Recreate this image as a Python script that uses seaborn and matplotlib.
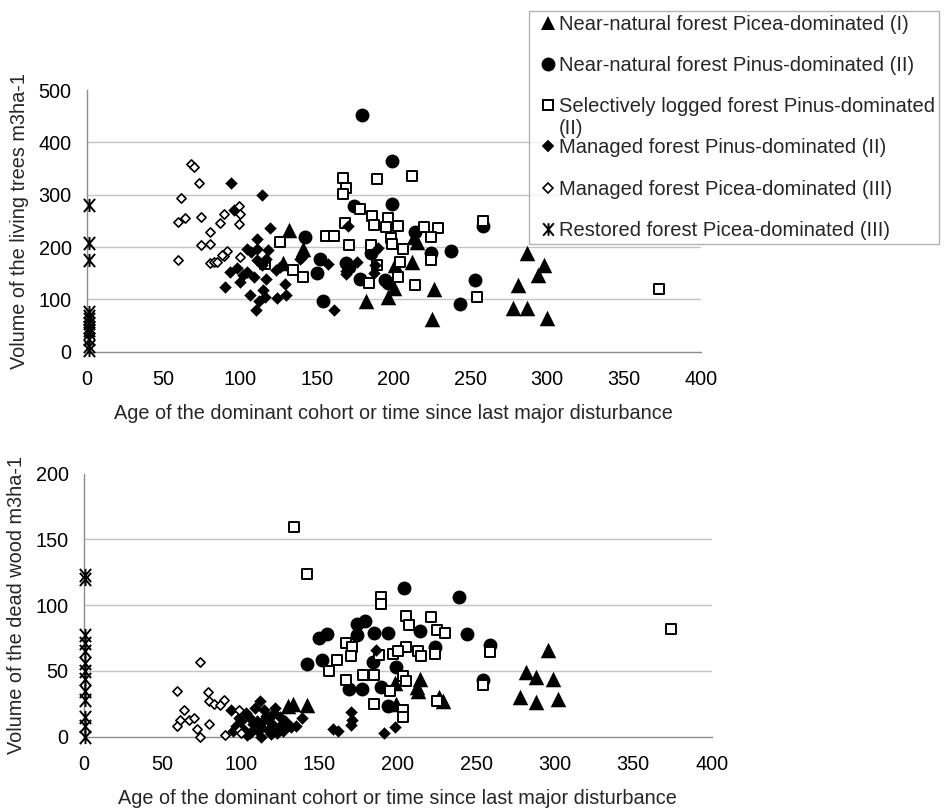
import numpy as np
import pandas as pd
import matplotlib
matplotlib.use("Agg")
import matplotlib.pyplot as plt
from matplotlib.path import Path
from matplotlib.lines import Line2D
import seaborn as sns

# ---------------- data: living trees (top panel) ----------------
live_picea_nn_x = [132, 141, 128, 212, 213, 215, 200, 196, 182, 201, 226, 225, 287, 281, 278, 287, 298, 294, 300]
live_picea_nn_y = [232, 196, 169, 172, 220, 210, 121, 105, 96, 166, 119, 62, 188, 127, 83, 83, 166, 146, 64]

live_pinus_nn_x = [179, 199, 199, 174, 142, 152, 150, 154, 169, 171, 185, 178, 194, 196, 214, 224, 237, 253, 243, 258]
live_pinus_nn_y = [452, 365, 282, 278, 220, 178, 151, 96, 169, 162, 188, 138, 137, 131, 229, 188, 192, 137, 92, 240]

live_logged_x = [126, 116, 134, 141, 167, 169, 167, 189, 212, 178, 186, 187, 196, 195, 203, 168, 156, 161,
                 171, 185, 198, 199, 206, 204, 189, 203, 184, 214, 220, 229, 224, 224, 254, 258, 373]
live_logged_y = [209, 168, 156, 143, 331, 313, 302, 330, 336, 273, 259, 243, 256, 239, 240, 245, 222, 222,
                 204, 204, 217, 206, 196, 172, 166, 143, 131, 127, 238, 236, 220, 175, 104, 250, 119]

live_man_pinus_x = [94, 114, 119, 96, 111, 104, 107, 111, 118, 111, 114, 117, 93, 98, 102, 100, 104, 90, 109,
                    117, 123, 126, 129, 106, 115, 116, 112, 110, 124, 130, 139, 157, 161, 170, 169, 171,
                    176, 169, 190, 188, 187, 140]
live_man_pinus_y = [322, 300, 237, 271, 215, 196, 191, 197, 194, 175, 166, 178, 153, 159, 147, 134, 153, 124, 143,
                    139, 156, 162, 129, 108, 118, 105, 96, 80, 102, 108, 178, 167, 80, 240, 155, 162,
                    172, 148, 199, 166, 150, 180]

live_man_picea_x = [68, 70, 73, 61, 59, 64, 74, 89, 99, 100, 99, 87, 80, 74, 80, 59, 80, 83, 91, 89, 100, 88, 85]
live_man_picea_y = [358, 352, 323, 294, 247, 255, 258, 264, 278, 263, 244, 245, 229, 204, 205, 175, 169, 172,
                    193, 183, 181, 185, 172]

live_restored_x = [1, 1, 1, 1, 1, 1, 1, 1, 1, 1, 1, 1, 1]
live_restored_y = [280, 207, 175, 75, 68, 62, 55, 48, 42, 35, 25, 10, 3]

# ---------------- data: dead wood (bottom panel) ----------------
dead_picea_nn_x = [130, 133, 142, 296, 282, 288, 299, 278, 288, 302, 214, 212, 226, 229, 199, 213, 198]
dead_picea_nn_y = [23, 25, 24, 66, 49, 45, 44, 30, 26, 29, 44, 38, 30, 27, 25, 35, 41]

dead_pinus_nn_x = [204, 239, 179, 174, 155, 150, 174, 185, 194, 214, 244, 224, 259, 142, 152, 184, 169, 177,
                   189, 194, 254, 199]
dead_pinus_nn_y = [113, 106, 88, 86, 78, 75, 77, 79, 79, 80, 78, 68, 70, 55, 58, 57, 36, 36,
                   38, 23, 43, 53]

dead_logged_x = [134, 142, 189, 189, 205, 207, 221, 225, 230, 167, 171, 170, 161, 156, 205, 197, 200, 213,
                 215, 224, 259, 188, 178, 185, 167, 203, 205, 195, 185, 203, 203, 254, 225, 374]
dead_logged_y = [159, 124, 106, 101, 92, 85, 91, 81, 79, 71, 68, 61, 58, 50, 68, 63, 65, 65,
                 61, 63, 64, 62, 47, 47, 43, 46, 42, 35, 25, 20, 15, 39, 27, 82]

dead_man_pinus_x = [112, 94, 139, 159, 162, 170, 171, 170, 186, 191, 198, 97, 100, 102, 105, 106, 108, 110,
                    112, 113, 115, 117, 118, 119, 120, 122, 124, 125, 127, 128, 130, 132, 135, 103, 109,
                    116, 121, 126, 95, 99, 104, 111, 114, 123]
dead_man_pinus_y = [27, 20, 14, 6, 4, 19, 13, 9, 66, 3, 7, 8, 12, 5, 15, 3, 10, 12,
                    8, 0, 20, 5, 14, 2, 10, 22, 6, 15, 4, 12, 9, 7, 8, 18, 22,
                    16, 18, 10, 4, 14, 1, 4, 12, 3]

dead_man_picea_x = [74, 59, 79, 80, 83, 89, 87, 64, 61, 59, 67, 70, 80, 72, 74, 99, 99, 90, 100]
dead_man_picea_y = [57, 35, 34, 27, 25, 28, 24, 20, 13, 8, 13, 14, 10, 6, 0, 20, 5, 1, 3]

dead_restored_x = [1, 1, 1, 1, 1, 1, 1, 1, 1, 1, 1, 1, 1]
dead_restored_y = [123, 120, 77, 71, 65, 56, 50, 44, 35, 28, 15, 8, 0]

series_labels = [
    "Near-natural forest Picea-dominated (I)",
    "Near-natural forest Pinus-dominated (II)",
    "Selectively logged forest Pinus-dominated",
    "Managed forest Pinus-dominated (II)",
    "Managed forest Picea-dominated (III)",
    "Restored forest Picea-dominated (III)",
]
wrapped_label_tail = "(II)"
x_label = "Age of the dominant cohort or time since last major disturbance"
y_label_top = "Volume of the living trees m3ha-1"
y_label_bottom = "Volume of the dead wood m3ha-1"

# ---------------- style ----------------
sns.set_theme(style="white")
plt.rcParams["font.family"] = ["Liberation Sans", "DejaVu Sans"]
FS = 14.3
LFS = 14.5
AXC = "#8c8c8c"
GRIDC = "#c4c4c4"

star = Path([(0, -1), (0, 1), (-0.85, -1), (0.85, 1), (-0.85, 1), (0.85, -1)],
            [Path.MOVETO, Path.LINETO, Path.MOVETO, Path.LINETO, Path.MOVETO, Path.LINETO])

styles = [
    dict(marker="^", s=125, color="black", edgecolor="black", linewidth=0),
    dict(marker="o", s=100, color="black", edgecolor="black", linewidth=0),
    dict(marker="s", s=50, color="white", edgecolor="black", linewidth=1.4),
    dict(marker="D", s=36, color="black", edgecolor="black", linewidth=0.3),
    dict(marker="D", s=22, color="white", edgecolor="black", linewidth=1.2),
    dict(marker=star, s=90, color="black", edgecolor="black", linewidth=1.4),
]
legend_ms = [10.5, 10.0, 7.5, 6.0, 5.5, 9.0]

fig = plt.figure(figsize=(9.46, 8.08), dpi=100)
W, H = 946.0, 808.0
ax_top = fig.add_axes([87 / W, 1 - 351.7 / H, (700.6 - 87) / W, (351.7 - 90) / H])
ax_bot = fig.add_axes([83.9 / W, 1 - 736.7 / H, (711.7 - 83.9) / W, (736.7 - 473.5) / H])

top_sets = [(live_picea_nn_x, live_picea_nn_y), (live_pinus_nn_x, live_pinus_nn_y),
            (live_logged_x, live_logged_y), (live_man_pinus_x, live_man_pinus_y),
            (live_man_picea_x, live_man_picea_y), (live_restored_x, live_restored_y)]
bot_sets = [(dead_picea_nn_x, dead_picea_nn_y), (dead_pinus_nn_x, dead_pinus_nn_y),
            (dead_logged_x, dead_logged_y), (dead_man_pinus_x, dead_man_pinus_y),
            (dead_man_picea_x, dead_man_picea_y), (dead_restored_x, dead_restored_y)]


def draw(ax, sets, ymax, ystep, ylabel):
    for i, ((xs, ys), st) in enumerate(zip(sets, styles)):
        df = pd.DataFrame({"x": xs, "y": ys})
        sns.scatterplot(data=df, x="x", y="y", ax=ax, legend=False, clip_on=False,
                        zorder=3 + i, **st)
    ax.set_xlim(0, 400)
    ax.set_ylim(0, ymax)
    ax.set_xticks(np.arange(0, 401, 50))
    ax.set_yticks(np.arange(0, ymax + 1, ystep))
    ax.yaxis.grid(True, color=GRIDC, linewidth=1.0)
    ax.xaxis.grid(False)
    gl = ax.get_ygridlines()
    gl[0].set_visible(False)
    gl[-1].set_visible(False)
    ax.set_axisbelow(True)
    for sp in ["top", "right"]:
        ax.spines[sp].set_visible(False)
    for sp in ["left", "bottom"]:
        ax.spines[sp].set_color(AXC)
        ax.spines[sp].set_linewidth(1.0)
    ax.tick_params(axis="both", which="major", direction="out", length=5, width=1.0,
                   color=AXC, labelsize=FS, labelcolor="black")
    ax.tick_params(axis="x", pad=8)
    ax.tick_params(axis="y", pad=6)
    ax.set_xlabel(x_label, fontsize=FS, labelpad=11)
    ax.set_ylabel(ylabel, fontsize=FS, labelpad=7)
    ax.set_facecolor("white")


draw(ax_top, top_sets, 500, 100, y_label_top)
draw(ax_bot, bot_sets, 200, 50, y_label_bottom)

# legend
handles = []
for st, ms in zip(styles, legend_ms):
    handles.append(Line2D([], [], linestyle="none", marker=st["marker"], markersize=ms,
                          markerfacecolor=st["color"], markeredgecolor="black",
                          markeredgewidth=st["linewidth"]))
leg = fig.legend(handles, series_labels, loc="upper left",
                 bbox_to_anchor=(529 / W, 1 - 11 / H), bbox_transform=fig.transFigure,
                 borderaxespad=0, frameon=True, fancybox=False, fontsize=LFS,
                 borderpad=0.2, handlelength=1.5, handletextpad=-0.2, labelspacing=1.1)
leg.get_frame().set_edgecolor("#a0a0a0")
leg.get_frame().set_linewidth(1.0)
leg.set_zorder(20)
fig.text(559 / W, 1 - 128 / H, wrapped_label_tail, fontsize=LFS, ha="left", va="center", zorder=30)

fig.savefig("out.png", dpi=100, facecolor="white")
